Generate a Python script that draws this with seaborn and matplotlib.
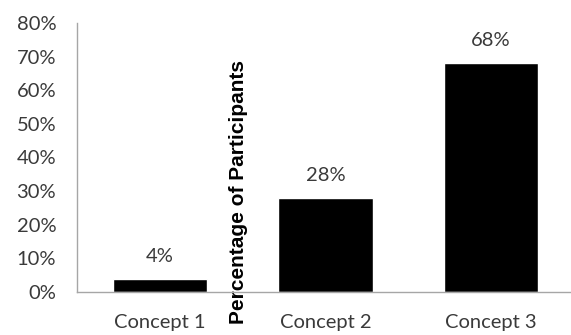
import matplotlib
matplotlib.use("Agg")
import matplotlib.pyplot as plt
import seaborn as sns
import pandas as pd
from matplotlib.ticker import PercentFormatter

categories = ["Concept 1", "Concept 2", "Concept 3"]
values = [4, 28, 68]
value_labels = ["4%", "28%", "68%"]
y_ticks = [0, 10, 20, 30, 40, 50, 60, 70, 80]

sns.set_theme(style="white")
plt.rcParams["font.family"] = ["Lato", "DejaVu Sans"]

df = pd.DataFrame({"concept": categories, "pct": values})

fig = plt.figure(figsize=(5.71, 3.35), dpi=100)
W, H = 571, 335
ax = fig.add_axes([77 / W, (H - 292) / H, (574 - 77) / W, (292 - 23) / H])

sns.barplot(data=df, x="concept", y="pct", color="black", width=0.57,
            saturation=1, ax=ax)

ax.set_ylim(0, 80)
ax.set_xlim(-0.5, 2.5)
ax.set_yticks(y_ticks)
ax.yaxis.set_major_formatter(PercentFormatter(decimals=0))
ax.tick_params(axis="both", length=0, labelsize=14.5, colors="#3a3a3a")
ax.tick_params(axis="y", pad=15)
ax.tick_params(axis="x", pad=15.5)
ax.set_xlabel("")

for s in ["top", "right"]:
    ax.spines[s].set_visible(False)
for s in ["left", "bottom"]:
    ax.spines[s].set_color("#a6a6a6")
    ax.spines[s].set_linewidth(1.0)

for i, (v, lab) in enumerate(zip(values, value_labels)):
    ax.annotate(lab, (i, v), xytext=(0, 10), textcoords="offset points",
                ha="center", va="bottom", fontsize=14.5, color="#3a3a3a")

ax.set_ylabel("Percentage of Participants", fontsize=15, fontweight="bold",
              family=["Liberation Sans", "DejaVu Sans"], color="black")
ax.yaxis.set_label_coords((248 - 77) / 497, 0.372)

fig.savefig("out.png", dpi=100)
